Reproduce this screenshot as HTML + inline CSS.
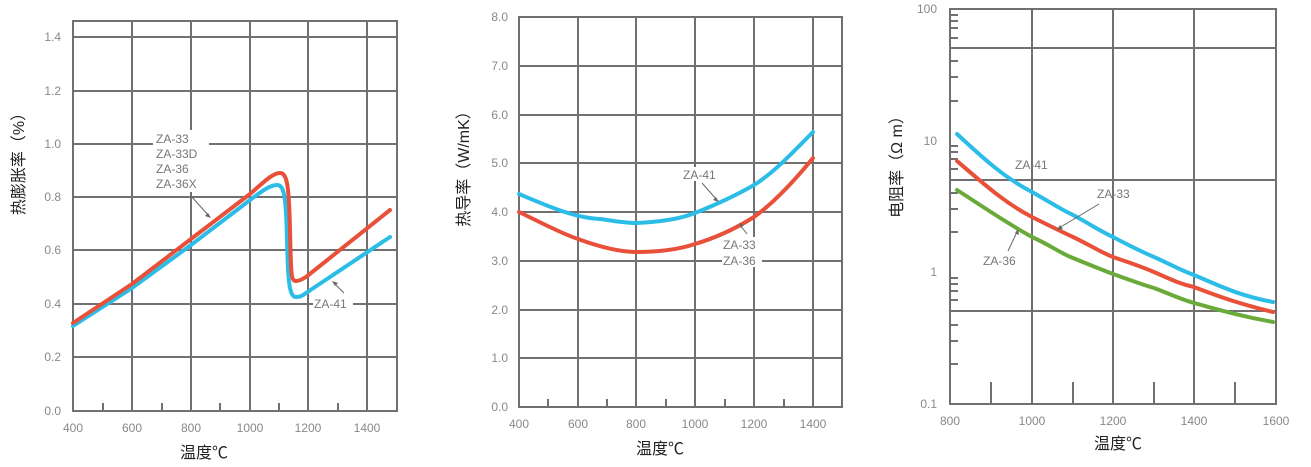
<!DOCTYPE html>
<html><head><meta charset="utf-8"><style>
body{margin:0;background:#fff;width:1311px;height:467px;overflow:hidden}
svg{display:block}
text{font-family:"Liberation Sans","Noto Sans CJK SC",sans-serif}
.t{font-size:12px;fill:#888}
.a{font-size:12px;fill:#777}
.ti{font-size:16px;fill:#222}
.g{stroke:#707070;stroke-width:2;fill:none}
.c{fill:none;stroke-width:4;stroke-linejoin:round;stroke-linecap:round}
</style></head><body>
<svg width="1311" height="467" viewBox="0 0 1311 467">
<!-- Chart 1 -->
<g class="g">
<rect x="73" y="21" width="324" height="390"/>
<path d="M132,21V411M191,21V411M250,21V411M308,21V411M367,21V411"/>
<path d="M73,37H397M73,91H397M73,144H397M73,197H397M73,250H397M73,304H397M73,357H397"/>
<path d="M103,411v-8M162,411v-8M220,411v-8M279,411v-8M338,411v-8"/>
</g>
<g class="t" text-anchor="end">
<text x="61" y="41">1.4</text><text x="61" y="95">1.2</text><text x="61" y="148">1.0</text><text x="61" y="201">0.8</text><text x="61" y="254">0.6</text><text x="61" y="308">0.4</text><text x="61" y="361">0.2</text><text x="61" y="415">0.0</text>
</g>
<g class="t" text-anchor="middle">
<text x="73" y="432">400</text><text x="132" y="432">600</text><text x="191" y="432">800</text><text x="250" y="432">1000</text><text x="308" y="432">1200</text><text x="367" y="432">1400</text>
</g>
<text class="ti" x="204" y="458" text-anchor="middle">温度℃</text>
<text class="ti" transform="translate(24,160) rotate(-90)" text-anchor="middle">热膨胀率（%）</text>
<path class="c" stroke="#2bbde8" d="M73,326 L132,288 L191,245 L250,200 C262,191 270,185 277,185 C284,185 286,195 287,240 C288,280 289,297 296,297 C300,297 302,296 306,293 L390,237"/>
<path class="c" stroke="#e8503a" d="M73,323 L132,284 L191,239 L250,194 C262,184 272,173 280,173 C287,173 289,185 290,230 C291,275 291,281 296,281 C300,281 302,279 306,277 L390,210"/>
<rect x="153" y="130" width="56" height="62" fill="#fff"/>
<g class="a"><text x="156" y="143">ZA-33</text><text x="156" y="158">ZA-33D</text><text x="156" y="173">ZA-36</text><text x="156" y="188">ZA-36X</text></g>
<path d="M191,196 L209,216" stroke="#666" stroke-width="1"/><path d="M211,218 l-6,-2 l3,-3z" fill="#666"/>
<rect x="313" y="296" width="40" height="14" fill="#fff"/>
<text class="a" x="314" y="308">ZA-41</text>
<path d="M344,293 L334,283" stroke="#666" stroke-width="1"/><path d="M332,281 l6,2 l-3,3z" fill="#666"/>

<!-- Chart 2 -->
<g class="g">
<rect x="519" y="17" width="323" height="390"/>
<path d="M578,17V407M636,17V407M695,17V407M754,17V407M813,17V407"/>
<path d="M519,66H842M519,115H842M519,163H842M519,212H842M519,261H842M519,310H842M519,358H842"/>
<path d="M548,407v-8M607,407v-8M666,407v-8M725,407v-8M784,407v-8"/>
</g>
<g class="t" text-anchor="end">
<text x="508" y="21">8.0</text><text x="508" y="70">7.0</text><text x="508" y="119">6.0</text><text x="508" y="167">5.0</text><text x="508" y="216">4.0</text><text x="508" y="265">3.0</text><text x="508" y="314">2.0</text><text x="508" y="362">1.0</text><text x="508" y="411">0.0</text>
</g>
<g class="t" text-anchor="middle">
<text x="519" y="428">400</text><text x="578" y="428">600</text><text x="636" y="428">800</text><text x="695" y="428">1000</text><text x="754" y="428">1200</text><text x="813" y="428">1400</text>
</g>
<text class="ti" x="660" y="454" text-anchor="middle">温度℃</text>
<text class="ti" transform="translate(469,165) rotate(-90)" text-anchor="middle">热导率（W/mK）</text>
<path class="c" stroke="#2bbde8" d="M519,194 C550,207 575,218 600,219 C615,221 625,223 636,223 C660,222 680,219 695,213 C715,205 735,196 754,185 C775,172 795,150 813,132"/>
<path class="c" stroke="#e8503a" d="M519,212 C540,222 560,233 578,239 C600,247 620,252 636,252 C660,252 680,249 695,244 C715,238 735,229 754,217 C775,202 795,180 813,158"/>
<rect x="682" y="167" width="40" height="14" fill="#fff"/>
<text class="a" x="683" y="179">ZA-41</text>
<path d="M702,183 L717,200" stroke="#666" stroke-width="1"/><path d="M719,202 l-6,-2 l3,-3z" fill="#666"/>
<rect x="722" y="237" width="40" height="30" fill="#fff"/>
<text class="a" x="723" y="249">ZA-33</text><text class="a" x="723" y="265">ZA-36</text>
<path d="M747,234 L740,225" stroke="#666" stroke-width="1"/><path d="M739,223 l5,2 l-3,3z" fill="#666"/>

<!-- Chart 3 -->
<g class="g">
<rect x="950" y="9" width="326" height="395"/>
<path d="M1032,9V404M1113,9V404M1194,9V404"/>
<path d="M950,48H1276M950,180H1276M950,311H1276"/>
<path d="M991,404v-22M1073,404v-22M1154,404v-22M1235,404v-22"/>
<path d="M950,364h8M950,341h8M950,325h8M950,300h8M950,291h8M950,284h8M950,278h8M950,232h8M950,209h8M950,193h8M950,169h8M950,159h8M950,152h8M950,146h8M950,101h8M950,77h8M950,61h8M950,38h8M950,28h8M950,21h8M950,15h8"/>
</g>
<g class="t" text-anchor="end">
<text x="937" y="13">100</text><text x="937" y="145">10</text><text x="937" y="276">1</text><text x="937" y="408">0.1</text>
</g>
<g class="t" text-anchor="middle">
<text x="950" y="425">800</text><text x="1032" y="425">1000</text><text x="1113" y="425">1200</text><text x="1194" y="425">1400</text><text x="1276" y="425">1600</text>
</g>
<text class="ti" x="1118" y="449" text-anchor="middle">温度℃</text>
<text class="ti" transform="translate(902,163) rotate(-90)" text-anchor="middle">电阻率（Ω m）</text>
<path class="c" stroke="#2bbde8" d="M957,134 C985,160 1005,178 1032,192 C1050,202 1060,209 1073,215 C1090,224 1100,231 1113,237 C1130,246 1140,251 1154,257 C1170,264 1180,270 1194,275 C1220,286 1240,296 1273,302"/>
<path class="c" stroke="#e8503a" d="M957,161 C985,185 1005,203 1032,217 C1050,226 1060,231 1073,237 C1090,245 1100,252 1113,257 C1130,263 1140,266 1154,272 C1170,279 1180,284 1194,287 C1220,297 1240,304 1273,312"/>
<path class="c" stroke="#6aaa3a" d="M957,190 C985,208 1005,222 1032,237 C1050,245 1060,253 1073,258 C1090,265 1100,269 1113,274 C1130,280 1140,284 1154,288 C1170,294 1180,299 1194,303 C1220,310 1240,316 1273,322"/>
<text class="a" x="1015" y="169">ZA-41</text>
<text class="a" x="1097" y="198">ZA-33</text>
<path d="M1099,204 L1059,228" stroke="#666" stroke-width="1"/><path d="M1057,230 l3,-5 l3,4z" fill="#666"/>
<text class="a" x="983" y="265">ZA-36</text>
<path d="M1008,251 L1017,232" stroke="#666" stroke-width="1"/><path d="M1018,229 l1,6 l-4,-2z" fill="#666"/>
</svg>
</body></html>
